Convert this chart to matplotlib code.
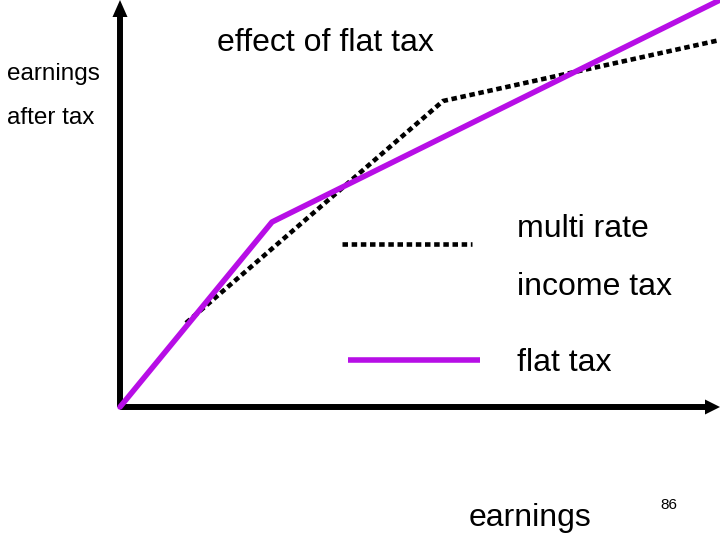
import matplotlib
matplotlib.use("Agg")
import matplotlib.pyplot as plt

plt.rcParams['font.family'] = ['Liberation Sans', 'DejaVu Sans']

# data (origin at axes corner; units ~ pixels)
flat_x = [0, 152, 600]
flat_y = [0, 185, 407]
multi_x = [66, 323, 600]
multi_y = [84, 306, 367]

purple = '#b70ee6'

fig = plt.figure(figsize=(7.2, 5.4), dpi=100)
ax = fig.add_axes([0, 0, 1, 1])
ax.set_xlim(-120, 600)
ax.set_ylim(-133, 407)
ax.axis('off')

# axes with arrows
ax.plot([0, 0], [0, 392], color='black', lw=4.3, solid_capstyle='butt', zorder=2)
ax.plot([0, 588], [0, 0], color='black', lw=4.3, solid_capstyle='butt', zorder=2)
ax.fill([-7.5, 7.5, 0], [390, 390, 407], color='black', lw=0, zorder=2)
ax.fill([585, 585, 600], [-7.5, 7.5, 0], color='black', lw=0, zorder=2)

ax.plot(multi_x, multi_y, color='black', lw=3.3, linestyle=(0, (1.2, 0.8)),
        dash_capstyle='butt', zorder=3)
ax.plot(flat_x, flat_y, color=purple, lw=4.0, solid_capstyle='round', zorder=4)

# legend-like samples
ax.plot([222, 352], [163, 163], color='black', lw=3.3, linestyle=(0, (1.2, 0.8)),
        dash_capstyle='butt')
ax.plot([228, 360], [47, 47], color=purple, lw=4.0, solid_capstyle='butt')

ax.text(205, 364, 'effect of flat tax', fontsize=23, ha='center', va='center')
ax.text(-113, 333, 'earnings', fontsize=17.5, ha='left', va='center')
ax.text(-113, 289, 'after tax', fontsize=17.5, ha='left', va='center')
ax.text(397, 178, 'multi rate', fontsize=23, ha='left', va='center')
ax.text(397, 120, 'income tax', fontsize=23, ha='left', va='center')
ax.text(397, 44, 'flat tax', fontsize=23, ha='left', va='center')
ax.text(410, -111, 'earnings', fontsize=23, ha='center', va='center')
ax.text(549, -98, '86', fontsize=11, ha='center', va='center')

fig.savefig('out.png', dpi=100)
